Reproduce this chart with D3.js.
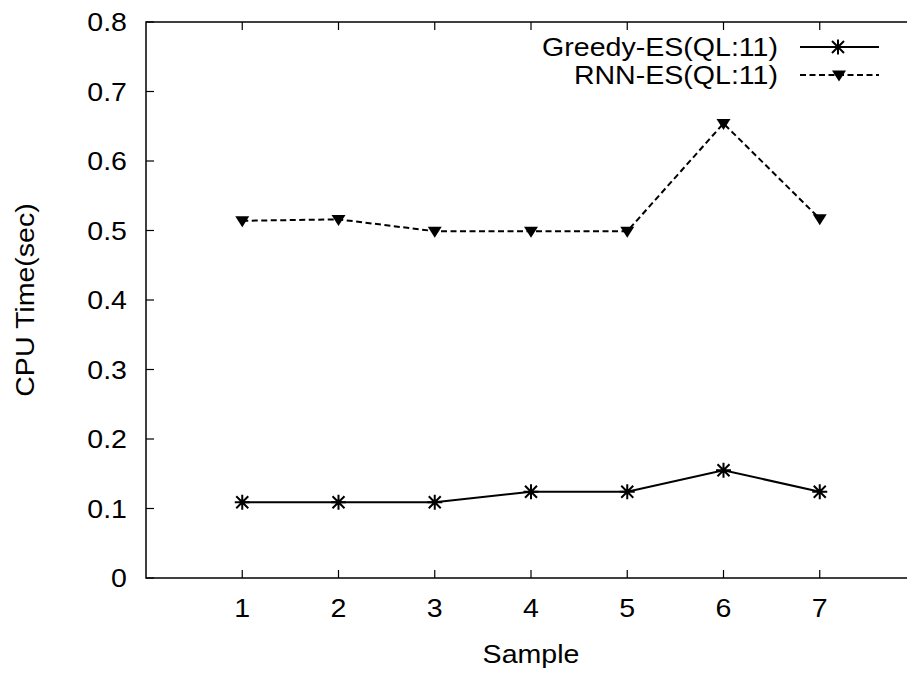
<!DOCTYPE html>
<html>
<head>
<meta charset="utf-8">
<script src="https://cdn.jsdelivr.net/npm/d3@7"></script>
<style>
  body { margin: 0; background: #fff; }
  text { font-family: "Liberation Sans", Arial, sans-serif; fill: #000; }
</style>
</head>
<body>
<svg id="chart" width="907" height="673"></svg>
<script>
// data
const samples = [1, 2, 3, 4, 5, 6, 7];
const greedy = [0.109, 0.109, 0.109, 0.124, 0.124, 0.155, 0.124];
const rnn = [0.514, 0.516, 0.499, 0.499, 0.499, 0.654, 0.517];
const seriesNames = ["Greedy-ES(QL:11)", "RNN-ES(QL:11)"];
const xTicks = [1, 2, 3, 4, 5, 6, 7];
const yTicks = [0, 0.1, 0.2, 0.3, 0.4, 0.5, 0.6, 0.7, 0.8];

const svg = d3.select("#chart");
const margin = { left: 146, top: 22, right: -9, bottom: 95 };
const width = 907 - margin.left - margin.right;
const height = 673 - margin.top - margin.bottom;
const fs = 25.5, sx = 1.12; // gnuplot text is a bit stretched horizontally

const x = d3.scaleLinear().domain([0, 8]).range([0, width]);
const y = d3.scaleLinear().domain([0, 0.8]).range([height, 0]);

const g = svg.append("g").attr("transform", `translate(${margin.left},${margin.top})`);

// stretched text helper
function label(sel, txt, px, py, anchor, rot) {
  return sel.append("text")
    .attr("transform", `translate(${px},${py})` + (rot ? ` rotate(${rot})` : "") + ` scale(${sx},1)`)
    .attr("text-anchor", anchor)
    .attr("font-size", fs)
    .text(txt);
}

// frame
g.append("rect").attr("width", width).attr("height", height)
  .attr("fill", "none").attr("stroke", "#000").attr("stroke-width", 1.5);

// ticks (inward, mirrored)
yTicks.forEach(t => {
  g.append("line").attr("x1", 0).attr("x2", 8).attr("y1", y(t)).attr("y2", y(t)).attr("stroke", "#000").attr("stroke-width", 1.2);
  g.append("line").attr("x1", width).attr("x2", width - 8).attr("y1", y(t)).attr("y2", y(t)).attr("stroke", "#000").attr("stroke-width", 1.2);
  label(g, t === 0 ? "0" : d3.format(".1f")(t), -19, y(t) + 9, "end");
});
xTicks.forEach(t => {
  g.append("line").attr("x1", x(t)).attr("x2", x(t)).attr("y1", height).attr("y2", height - 8).attr("stroke", "#000").attr("stroke-width", 1.2);
  g.append("line").attr("x1", x(t)).attr("x2", x(t)).attr("y1", 0).attr("y2", 8).attr("stroke", "#000").attr("stroke-width", 1.2);
  label(g, t, x(t), height + 39, "middle");
});

// axis titles
label(svg, "Sample", 531, 663, "middle");
label(svg, "CPU Time(sec)", 34, 300, "middle", -90);

const line = d3.line().x((d, i) => x(samples[i])).y(d => y(d));

function star(sel, cx, cy) {
  const r = 7.5, d = 6;
  const p = `M${cx - r},${cy}L${cx + r},${cy}M${cx},${cy - r}L${cx},${cy + r}` +
    `M${cx - d},${cy - d}L${cx + d},${cy + d}M${cx - d},${cy + d}L${cx + d},${cy - d}`;
  sel.append("path").attr("d", p).attr("stroke", "#000").attr("stroke-width", 2).attr("fill", "none");
}
function tri(sel, cx, cy) {
  sel.append("path").attr("d", `M${cx - 7},${cy - 4.5}L${cx + 7},${cy - 4.5}L${cx},${cy + 6.5}Z`)
    .attr("fill", "#000");
}

// greedy series
g.append("path").datum(greedy).attr("d", line)
  .attr("fill", "none").attr("stroke", "#000").attr("stroke-width", 2);
greedy.forEach((v, i) => star(g, x(samples[i]), y(v)));

// rnn series
g.append("path").datum(rnn).attr("d", line)
  .attr("fill", "none").attr("stroke", "#000").attr("stroke-width", 2).attr("stroke-dasharray", "6,3.5");
rnn.forEach((v, i) => tri(g, x(samples[i]), y(v)));

// legend
const leg = svg.append("g");
[0, 1].forEach(k => {
  const ly = 47 + k * 28;
  label(leg, seriesNames[k], 778, ly + 9, "end");
  leg.append("line").attr("x1", 800).attr("x2", 879).attr("y1", ly).attr("y2", ly)
    .attr("stroke", "#000").attr("stroke-width", 2)
    .attr("stroke-dasharray", k ? "6,3.5" : null);
  if (k) tri(leg, 839, ly); else star(leg, 838, ly);
});
</script>
</body>
</html>
